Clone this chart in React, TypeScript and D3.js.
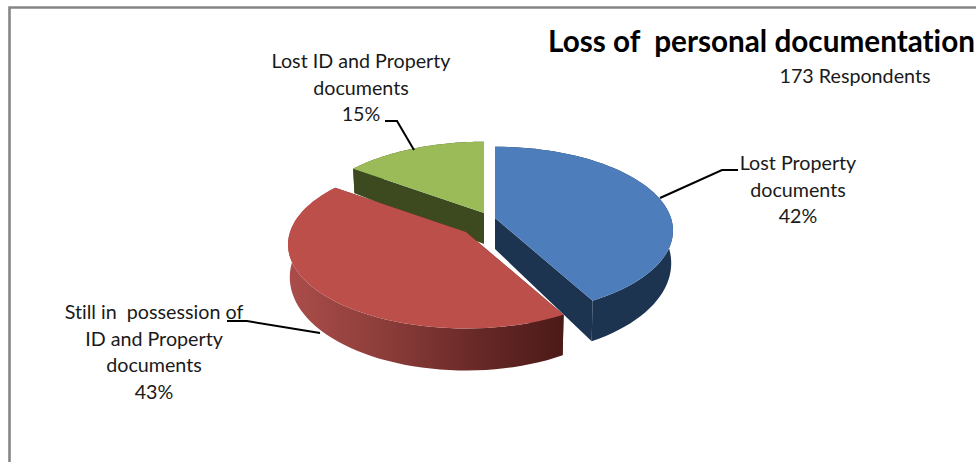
import React from "react";
import * as d3 from "d3";

const categories = ["Lost Property documents", "Still in possession of ID and Property documents", "Lost ID and Property documents"];
const values = [42, 43, 15];
const percentLabels = ["42%", "43%", "15%"];
const titleText = "Loss of  personal documentation";
const subtitleText = "173 Respondents";

const sliceColors = ["#4d7ebb", "#bd4f4b", "#9bbb59"];
const wallColors = ["#1d3451", "url(#redWall)", "#3d4a20"];
const sliceCenters: [number, number][] = [[495, 218], [466, 232], [484, 213]];
const labelLines = [
  ["Lost Property", "documents", "42%"],
  ["Still in  possession of", "ID and Property", "documents", "43%"],
  ["Lost ID and Property", "documents", "15%"],
];
const labelAnchors = [[798, 170], [154, 319], [361, 68]];
const leaders: [number, number][][] = [
  [[660, 198], [722, 170], [738, 170]],
  [[227, 321], [247, 321], [320, 333]],
  [[385, 121], [397, 121], [414, 150]],
];

const RX = 176, RY = 82, K = 0.15;
const FONT = "Lato, Carlito, 'Open Sans', sans-serif";

const pie = d3.pie<number>().sort(null).startAngle(0).endAngle(2 * Math.PI);
const line = d3.line<[number, number]>();

function project(a: number, r: number, c: [number, number], bottom: boolean): [number, number] {
  const u = Math.sin(a) * r, v = -Math.cos(a) * r;
  const s = 1 / (1 - K * v);
  let x = RX * u * s, y = RY * v * s;
  if (bottom) { y += 31 + 11 * v; x *= 0.99; }
  return [c[0] + x, c[1] + y];
}
const arcPts = (a0: number, a1: number, c: [number, number], bottom: boolean) =>
  d3.range(0, 61).map((i) => project(a0 + ((a1 - a0) * i) / 60, 1, c, bottom));

export default function App() {
  const arcs = pie(values);
  const order = [2, 0, 1];
  return (
    <svg width={976} height={462} style={{ position: "absolute", left: 0, top: 0, background: "#fff" }}>
      <defs>
        <linearGradient id="redWall" gradientUnits="userSpaceOnUse" x1={287} x2={565} y1={0} y2={0}>
          <stop offset="0" stopColor="#ab4d4a" />
          <stop offset="0.35" stopColor="#8c3d3a" />
          <stop offset="0.7" stopColor="#662826" />
          <stop offset="1" stopColor="#4b1a18" />
        </linearGradient>
      </defs>
      <path d="M9.5 462V7.5H976" fill="none" stroke="#868686" strokeWidth={2.6} />
      {order.map((i) => {
        const d = arcs[i], c = sliceCenters[i];
        const top = arcPts(d.startAngle, d.endAngle, c, false);
        const bot = arcPts(d.startAngle, d.endAngle, c, true);
        const cT = project(0, 0, c, false), cB = project(0, 0, c, true);
        const wall = [...top, ...bot.slice().reverse()];
        const face0: [number, number][] = [cT, top[0], bot[0], cB];
        const face1: [number, number][] = [cT, top[60], bot[60], cB];
        const solid = i === 1 ? "#4b1a18" : wallColors[i];
        return (
          <g key={categories[i]}>
            <path d={line(face0)! + "Z"} fill={solid} />
            <path d={line(face1)! + "Z"} fill={solid} />
            <path d={line(wall)! + "Z"} fill={wallColors[i]} />
            <path d={line([cT, ...top])! + "Z"} fill={sliceColors[i]} />
          </g>
        );
      })}
      {leaders.map((l, i) => (
        <path key={i} d={line(l)!} fill="none" stroke="#000" strokeWidth={2} />
      ))}
      <g fontFamily={FONT} fontSize={19.7} fill="#1a1a1a" textAnchor="middle" style={{ fontVariantLigatures: "none" }}>
        {labelLines.map((ls, i) =>
          ls.map((t, j) => (
            <text key={t + i} x={labelAnchors[i][0]} y={labelAnchors[i][1] + j * 26.6} style={{ whiteSpace: "pre" }}>{t}</text>
          ))
        )}
        <text x={855} y={83}>{subtitleText}</text>
      </g>
      <text x={548} y={52} fontFamily={FONT} fontWeight={700} fontSize={29.7} fill="#000" style={{ whiteSpace: "pre", fontVariantLigatures: "none" }}>{titleText}</text>
    </svg>
  );
}
